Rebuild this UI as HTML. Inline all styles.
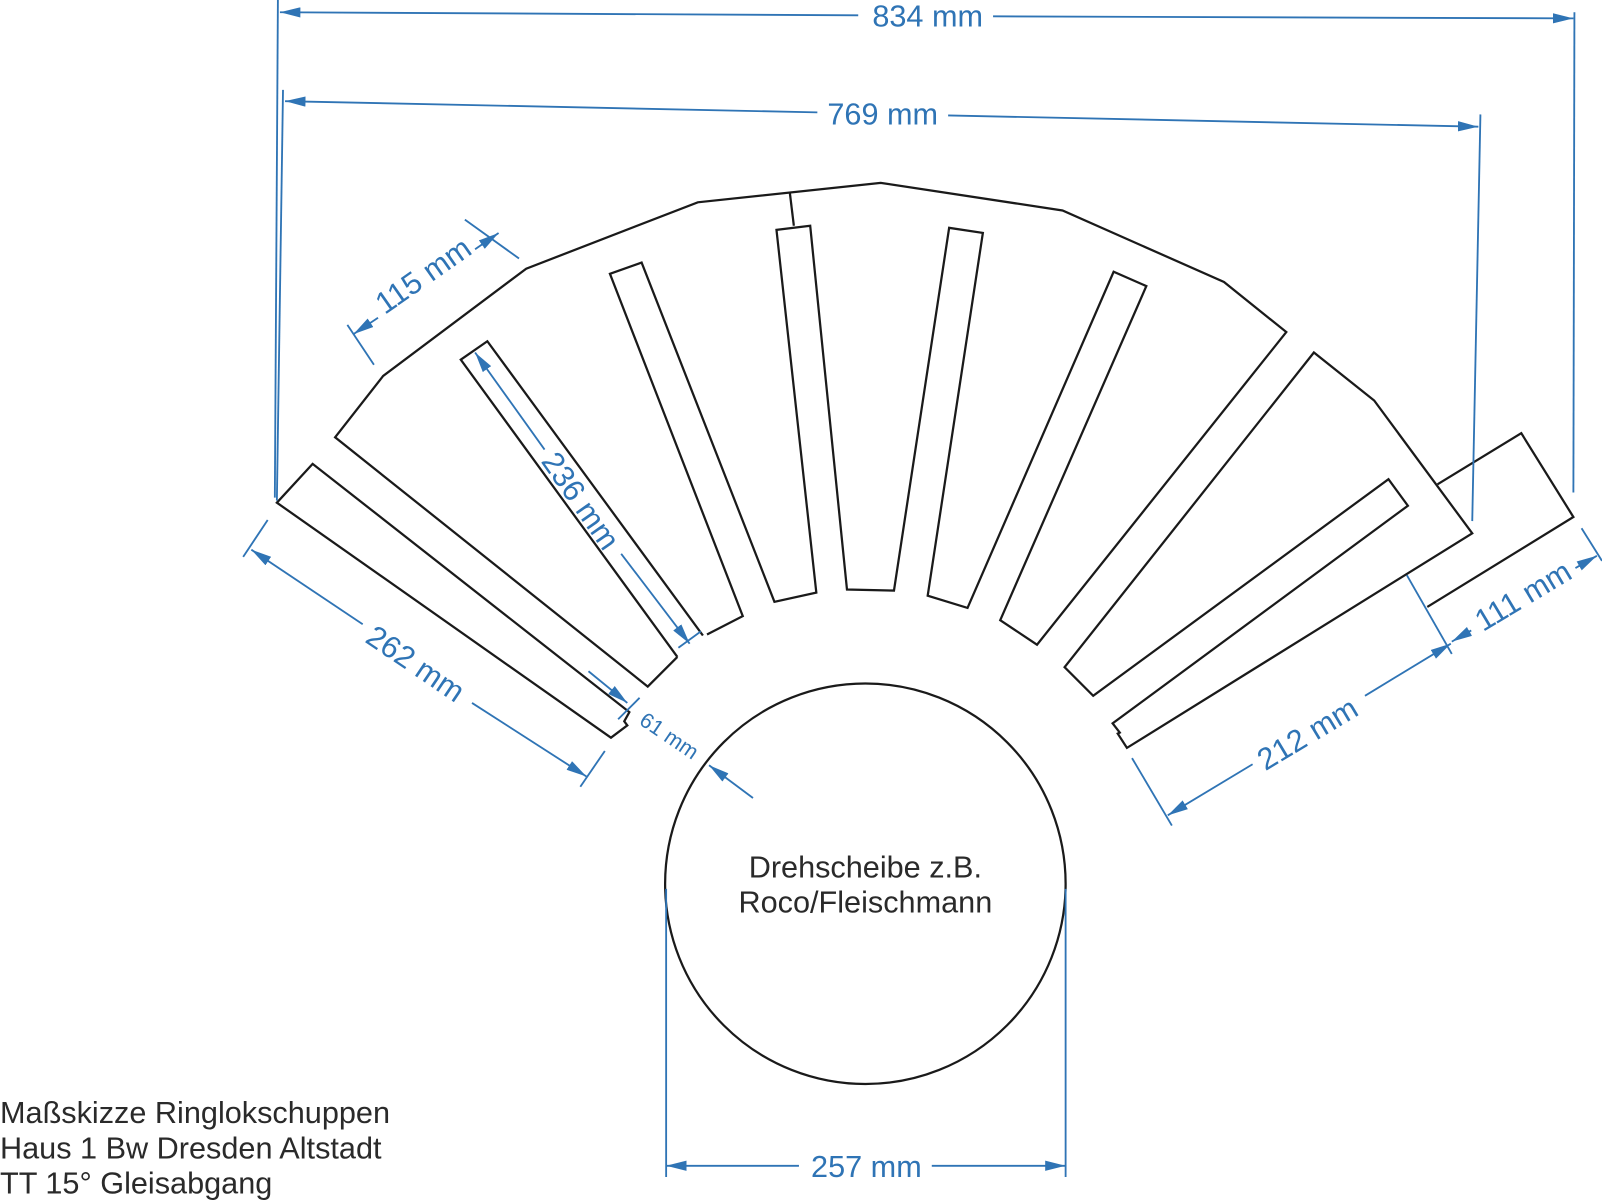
<!DOCTYPE html>
<html><head><meta charset="utf-8"><style>
html,body{margin:0;padding:0;background:#fff;}
svg{display:block;}
text{font-family:"Liberation Sans",Arial,sans-serif;}
.b{fill:none;stroke:#1a1a1a;stroke-width:2.2;stroke-linejoin:miter;}
.d{fill:none;stroke:#2f74b5;stroke-width:1.8;}
.t{fill:#2f74b5;font-size:30px;}
.k{fill:#2a2a2a;font-size:30px;}
</style></head><body>
<svg width="1602" height="1200" viewBox="0 0 1568 1174.5" preserveAspectRatio="none" xmlns="http://www.w3.org/2000/svg">
<defs>
<marker id="a" viewBox="0 0 20 10" refX="20" refY="5" markerWidth="20" markerHeight="10" markerUnits="userSpaceOnUse" orient="auto-start-reverse"><path d="M0,0 L20,5 L0,10 z" fill="#2f74b5"/></marker>
</defs>
<!-- building outlines -->
<polygon class="b" points="271,492 306,454 616,697 611,706 614,710 598,722"/>
<polyline class="b" points="663,643 634,672 328,428 375,368 515,263 683,198 862,179 1040,206 1198,276 1259,325 1015,631 979,607 1122,280 1090,266 947,595 908,583 962,228 929,223 875,578 829,577 793,221 760,225 799,580 758,589 628,257 597,268 727,603 692,621"/>
<polyline class="b" points="688,622 477,334 451,352 663,643"/>
<line class="b" x1="773" y1="188" x2="777" y2="221"/>
<polygon class="b" points="1286,345 1042,653 1070,681 1359,469 1378,495 1089,708 1096,717 1094,718 1103,732 1441,522 1345,392"/>
<polyline class="b" points="1407,474 1489,424 1540,506 1397,594"/>
<circle class="b" cx="847" cy="865" r="196"/>
<!-- 834 -->
<line class="d" x1="272" y1="0" x2="269" y2="487"/>
<line class="d" x1="1541" y1="12" x2="1540" y2="482"/>
<line class="d" x1="274" y1="12" x2="840" y2="15" marker-start="url(#a)"/>
<line class="d" x1="972" y1="16" x2="1540" y2="18" marker-end="url(#a)"/>
<text class="t" x="908" y="26" text-anchor="middle">834 mm</text>
<!-- 769 -->
<line class="d" x1="277" y1="88" x2="271" y2="490"/>
<line class="d" x1="1449" y1="112" x2="1441" y2="510"/>
<line class="d" x1="279" y1="99" x2="800" y2="110" marker-start="url(#a)"/>
<line class="d" x1="928" y1="113" x2="1447" y2="124" marker-end="url(#a)"/>
<text class="t" x="864" y="122" text-anchor="middle">769 mm</text>
<!-- 115 -->
<line class="d" x1="340" y1="318" x2="366" y2="357"/>
<line class="d" x1="455" y1="215" x2="508" y2="253"/>
<line class="d" x1="346" y1="327" x2="370" y2="311" marker-start="url(#a)"/>
<line class="d" x1="465" y1="244" x2="488" y2="228" marker-end="url(#a)"/>
<text class="t" transform="translate(420,278) rotate(-35)" text-anchor="middle">115 mm</text>
<!-- 236 -->
<line class="d" x1="465" y1="345" x2="533" y2="440" marker-start="url(#a)"/>
<line class="d" x1="608" y1="542" x2="675" y2="630" marker-end="url(#a)"/>
<line class="d" x1="664" y1="634" x2="686" y2="618"/>
<text class="t" transform="translate(560,496) rotate(55)" text-anchor="middle">236 mm</text>
<!-- 262 -->
<line class="d" x1="238" y1="545" x2="262" y2="509"/>
<line class="d" x1="568" y1="770" x2="592" y2="735"/>
<line class="d" x1="246" y1="538" x2="355" y2="611" marker-start="url(#a)"/>
<line class="d" x1="462" y1="688" x2="574" y2="760" marker-end="url(#a)"/>
<text class="t" transform="translate(401,658) rotate(34)" text-anchor="middle">262 mm</text>
<!-- 61 -->
<line class="d" x1="605" y1="704" x2="626" y2="683"/>
<line class="d" x1="576" y1="657" x2="614" y2="688" marker-end="url(#a)"/>
<line class="d" x1="737" y1="781" x2="694" y2="749" marker-end="url(#a)"/>
<text class="t" style="font-size:21px" transform="translate(651,726) rotate(34)" text-anchor="middle">61 mm</text>
<!-- 212 -->
<line class="d" x1="1108" y1="742" x2="1147" y2="808"/>
<line class="d" x1="1143" y1="798" x2="1226" y2="748" marker-start="url(#a)"/>
<line class="d" x1="1336" y1="681" x2="1420" y2="630" marker-end="url(#a)"/>
<text class="t" transform="translate(1285,727) rotate(-31)" text-anchor="middle">212 mm</text>
<!-- 111 -->
<line class="d" x1="1377" y1="563" x2="1421" y2="640"/>
<line class="d" x1="1548" y1="517" x2="1568" y2="549"/>
<line class="d" x1="1421" y1="628" x2="1440" y2="617" marker-start="url(#a)"/>
<line class="d" x1="1542" y1="556" x2="1563" y2="544" marker-end="url(#a)"/>
<text class="t" transform="translate(1496,592) rotate(-31)" text-anchor="middle">111 mm</text>
<!-- 257 -->
<line class="d" x1="652" y1="870" x2="652" y2="1152"/>
<line class="d" x1="1043" y1="870" x2="1043" y2="1152"/>
<line class="d" x1="652" y1="1141" x2="782" y2="1141" marker-start="url(#a)"/>
<line class="d" x1="912" y1="1141" x2="1043" y2="1141" marker-end="url(#a)"/>
<text class="t" x="848" y="1152" text-anchor="middle">257 mm</text>
<!-- labels -->
<text class="k" x="847" y="859" text-anchor="middle">Drehscheibe z.B.</text>
<text class="k" x="847" y="893" text-anchor="middle">Roco/Fleischmann</text>
<text class="k" x="0" y="1099">Maßskizze Ringlokschuppen</text>
<text class="k" x="0" y="1134">Haus 1 Bw Dresden Altstadt</text>
<text class="k" x="0" y="1168">TT 15° Gleisabgang</text>
</svg>
</body></html>
